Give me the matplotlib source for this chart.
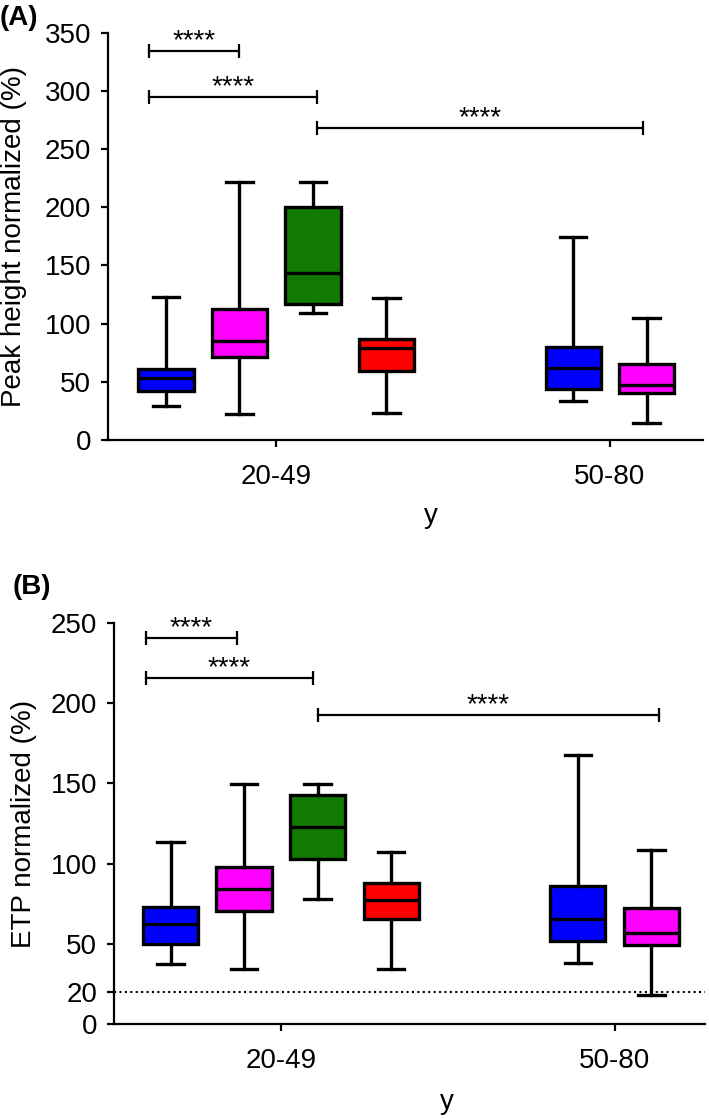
import matplotlib.pyplot as plt

plt.rcParams['font.family'] = ['Liberation Sans', 'DejaVu Sans']

# groups and box layout (box index units)
groups = ["20-49", "50-80"]
positions = [0, 1, 2, 3, 5.54, 6.54]
group_ticks = [1.5, 6.04]
colors = ["#0000ff", "#ff00ff", "#127a02", "#ff0000", "#0000ff", "#ff00ff"]

# (A) peak height normalized (%)
peak_lo = [29.0, 22.3, 109.4, 22.9, 33.8, 14.3]
peak_q1 = [42.1, 71.6, 116.8, 59.5, 44.1, 40.6]
peak_med = [53.5, 85.0, 143.7, 78.8, 62.1, 47.2]
peak_q3 = [60.7, 112.3, 200.4, 86.5, 80.2, 65.0]
peak_hi = [122.6, 221.9, 221.9, 122.0, 174.1, 104.5]
peak_ticks = [0, 50, 100, 150, 200, 250, 300, 350]

# (B) ETP normalized (%)
etp_lo = [37.8, 34.7, 77.7, 34.7, 38.2, 18.2]
etp_q1 = [50.0, 70.7, 103.2, 65.8, 51.7, 49.2]
etp_med = [62.2, 84.1, 122.6, 77.5, 65.3, 56.8]
etp_q3 = [73.0, 97.8, 142.9, 87.8, 86.4, 72.3]
etp_hi = [113.3, 149.9, 149.9, 107.5, 167.5, 108.7]
etp_ticks = [0, 20, 50, 100, 150, 200, 250]
etp_ref = 20

# significance brackets: start, end, height
peak_br_x0 = [-0.23, -0.23, 2.05]
peak_br_x1 = [1.0, 2.05, 6.49]
peak_br_y = [334, 294.6, 268.3]
etp_br_x0 = [-0.34, -0.34, 2.0]
etp_br_x1 = [0.90, 1.94, 6.65]
etp_br_y = [240.5, 215.3, 192.5]
stars = "****"

LW = 2.4


def draw_panel(ax, lo, q1, med, q3, hi, bx0, bx1, by, yticks, ylabel):
    stats = []
    for i in range(len(positions)):
        stats.append(dict(whislo=lo[i], q1=q1[i], med=med[i], q3=q3[i],
                          whishi=hi[i], fliers=[]))
    bp = ax.bxp(stats, positions=positions, widths=0.75, capwidths=0.36,
                patch_artist=True, showfliers=False,
                boxprops=dict(linewidth=LW, edgecolor='black'),
                whiskerprops=dict(linewidth=LW, color='black'),
                capprops=dict(linewidth=LW, color='black'),
                medianprops=dict(linewidth=LW, color='black'))
    for patch, c in zip(bp['boxes'], colors):
        patch.set_facecolor(c)

    for x0, x1, y in zip(bx0, bx1, by):
        ax.plot([x0, x1], [y, y], color='black', lw=1.6, marker='|',
                markersize=10, markeredgewidth=1.6, clip_on=False)
        ax.annotate(stars, xy=((x0 + x1) / 2, y), xytext=(0, 2),
                    textcoords='offset points', ha='center', va='baseline',
                    fontsize=20)

    ax.set_xticks(group_ticks)
    ax.set_xticklabels(groups)
    ax.set_yticks(yticks)
    ax.set_ylim(0, yticks[-1])
    ax.set_ylabel(ylabel, fontsize=20)
    ax.set_xlabel("y", fontsize=20)
    for s in ['top', 'right']:
        ax.spines[s].set_visible(False)
    for s in ['left', 'bottom']:
        ax.spines[s].set_linewidth(1.6)
    ax.tick_params(direction='out', length=5, width=1.6, labelsize=20)
    ax.tick_params(axis='x', pad=12)
    ax.tick_params(axis='y', pad=7)


fig = plt.figure(figsize=(7.09, 11.19), dpi=100)

axA = fig.add_axes([107.7 / 709, 1 - 440 / 1119, (703 - 107.7) / 709, (440 - 32.7) / 1119])
draw_panel(axA, peak_lo, peak_q1, peak_med, peak_q3, peak_hi,
           peak_br_x0, peak_br_x1, peak_br_y, peak_ticks, "Peak height normalized (%)")
axA.set_xlim(-0.793, 7.306)
axA.yaxis.set_label_coords(-0.1356, 0.5)
axA.xaxis.set_label_coords(0.543, -0.1535)

axB = fig.add_axes([114 / 709, 1 - 1024.3 / 1119, (705 - 114) / 709, (1024.3 - 622.7) / 1119])
draw_panel(axB, etp_lo, etp_q1, etp_med, etp_q3, etp_hi,
           etp_br_x0, etp_br_x1, etp_br_y, etp_ticks, "ETP normalized (%)")
axB.set_xlim(-0.769, 7.27)
axB.axhline(etp_ref, color='black', lw=1.5, linestyle=(0, (1, 1.6)), zorder=0)
axB.yaxis.set_label_coords(-0.130, 0.5)
axB.xaxis.set_label_coords(0.563, -0.162)

fig.text(0 / 709, 1 - 18 / 1119, "(A)", fontsize=20, fontweight='bold', va='center', ha='left')
fig.text(13 / 709, 1 - 587 / 1119, "(B)", fontsize=20, fontweight='bold', va='center', ha='left')

fig.savefig("out.png", dpi=100)
